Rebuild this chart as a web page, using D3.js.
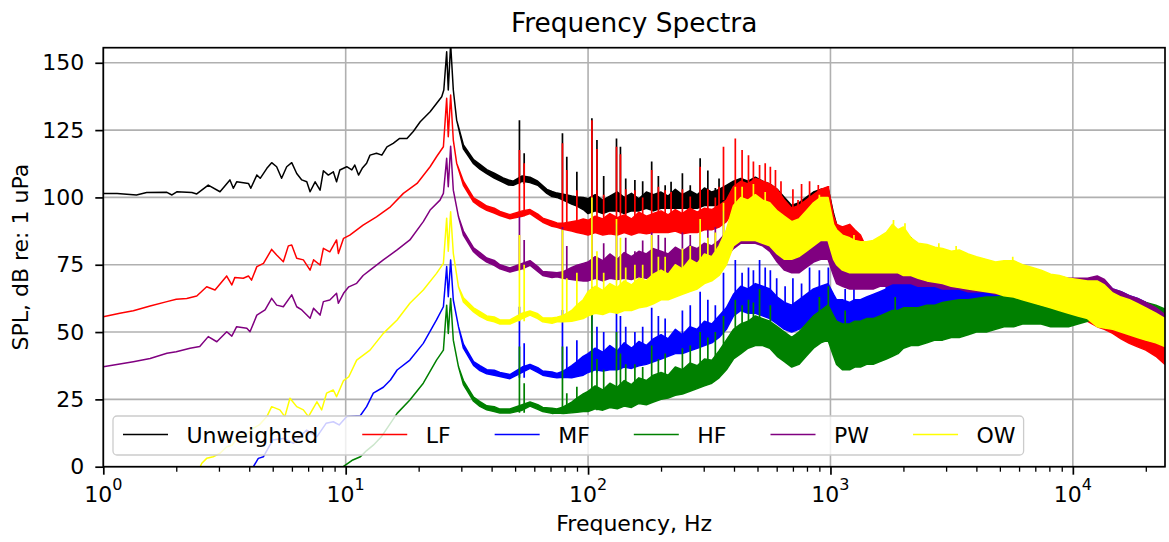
<!DOCTYPE html>
<html>
<head>
<meta charset="utf-8">
<script src="https://cdn.jsdelivr.net/npm/d3@7"></script>
<style>
  body { margin: 0; background: #fff; }
  svg { display: block; font-family: "DejaVu Sans", sans-serif; }
</style>
</head>
<body>
<script>
// ---- data (frequency Hz, level dB) ----
const seriesNames = ["Unweighted", "LF", "MF", "HF", "PW", "OW"];
const seriesColors = ["#000000", "#ff0000", "#0000ff", "#008000", "#800080", "#ffff00"];
const yTicks = [0, 25, 50, 75, 100, 125, 150];
const xTickExponents = [0, 1, 2, 3, 4];

// below ~100 Hz each trace is a thin line: [f, v] or [f, lo, hi]
const unweightedLow = [
  [1,101.5],[1.14,101.5],[1.37,100.9],[1.51,101.8],[1.83,101.9],[1.92,100.9],[2.01,102.1],[2.32,101.8],[2.43,101.3],
  [2.71,104.6],[3.03,102.1],[3.33,106.5],[3.44,103.4],[3.55,105.8],[3.97,105.2],[4.06,103.4],[4.3,108.3],[4.44,107.1],
  [4.73,110.8],[4.95,112.9],[5.19,111.4],[5.44,107.1],[5.71,111.4],[5.99,112.9],[6.28,108.9],[6.59,106.5],[6.91,105.8],
  [7.13,102.1],[7.48,105.8],[7.84,102.7],[8.09,109.9],[8.48,108.3],[8.89,109.5],[9.17,105.8],[9.46,110.2],[10.1,111.4],
  [10.6,110.2],[10.9,112],[11.3,108.3],[11.7,110.8],[12.2,112.7],[12.6,115.7],[13.4,116.4],[14.1,115.7],[14.8,118.8],
  [15.7,120.1],[16.7,121.9],[17.9,121.9],[19,124.5],[20.3,128.1],[22.3,131.8],[24.9,137.4],[25.4,139.9],[26.1,154.1],
  [26.5,139.9],[27.1,157],[27.8,139.9],[28.7,128.7],[30.6,118,119.5],[33.7,112.5,114],[35.8,110.5,112.3],
  [38.2,108.8,110.3],[41,107.2,109],[44.6,105.6,107.2],[47,104.6,106.5],[49.1,104.5,106],[53.5,106,108],
  [57.6,105.5,107.5],[62,104.5,106],[67.6,101.5,103],[71,100.3,102.2],[74.4,100,101.6],[79,99,101.2],
  [85.6,97.5,100.5],[90,96.8,100.2],[95.5,95.5,100]
];
const lfLow = [
  [1,55.7],[1.17,57],[1.33,57.9],[1.56,59.7],[1.83,61.3],[2,62.2],[2.21,62.5],[2.43,63.4],[2.67,66.8],[2.89,65.6],
  [3.23,70.8],[3.39,67.5],[3.49,70.3],[3.78,70],[3.97,70.8],[4.09,69.3],[4.3,74.3],[4.58,75.5],[4.95,80.7],[5.19,78.6],
  [5.53,76.1],[5.8,82],[5.99,82.3],[6.28,77.4],[6.69,76.8],[7.13,73],[7.37,76.8],[7.84,74.9],[8.09,81.1],[8.6,79.8],
  [9.17,84.2],[9.33,79.2],[9.8,84.8],[10.4,86],[11.8,89.7],[13.4,92.8],[15.3,96.5],[17.3,101.5],[19.7,105.2],
  [22.3,111.4],[23.7,115.1],[25.3,118.8],[26.1,136.8],[26.5,122.5],[27.1,138],[27.8,121.3],[28.7,112.7],
  [30.6,104.5,106],[33.7,98.3,99.8],[35.8,96.6,98.4],[38.2,95.2,96.8],[41,94.2,96],[43.3,93.3,94.8],[47.6,92.1,93.6],
  [53.5,93,95],[57.6,94,95.5],[62,92,93.8],[65,90.8,92.3],[71,89.3,91.2],[74.4,88.9,90.5],[79,88.2,90.4],
  [85.6,87.5,91],[90,87,91.3],[95.5,86.5,92]
];
const mfLow = [
  [4.1,-2],[4.16,0],[4.36,3.1],[4.58,3.7],[5,9.9],[5.53,10.5],[6.1,8.7],[6.9,13.6],[7.6,11.1],[8.3,16.1],[8.89,16.7],
  [9.4,15.5],[10.1,18.6],[11.5,19],[12.2,22.3],[13,27.3],[14.3,29.5],[15.3,32.2],[16.3,35.9],[18.4,39.6],[20.9,45.8],
  [23.7,54.5],[25.3,59.4],[26.1,74.3],[26.5,63.1],[27.1,76.8],[27.8,61.9],[29.2,52],[30.6,44,45.5],[33.7,37.6,39],
  [35.8,35.7,37.5],[38.2,34.5,36],[41,34,35.8],[43.3,33.5,35],[47.6,32.7,34.2],[53.5,35,37],[57.6,36.5,38],
  [62,35,36.8],[65,34,35.5],[71,33.3,35.2],[74.4,33,34.6],[79,33.2,35.5],[85.6,33,37.5],[90,33.5,39],[95.5,34,41]
];
const hfLow = [
  [9.7,-2],[9.77,0],[10.7,2.5],[11.5,3.7],[12.2,6],[13,8],[14,11],[15,15],[16.3,19.8],[18.4,24.8],[20.9,31],
  [23.7,39.6],[25.3,43.3],[26.1,60],[26.5,49.5],[27.1,62.5],[27.8,47],[29.2,37.1],[30.6,30.5,32],[33.7,24.3,25.8],
  [35.8,22.4,24.2],[38.2,21.1,22.6],[41,20.5,22.3],[43.3,19.9,21.4],[47.6,19.9,21.4],[53.5,21,23],[57.6,22.5,24],
  [62,21.3,23],[65,20.5,22],[71,19.8,21.7],[74.4,19.9,21.4],[79,19.8,22.2],[85.6,20,24],[90,20.2,25.5],[95.5,20.5,27]
];
const pwLow = [
  [1,37.1],[1.33,39],[1.56,40.2],[1.83,42.1],[2,42.7],[2.28,44],[2.5,44.6],[2.71,48.3],[2.94,46.4],[3.23,50.1],
  [3.39,48.5],[3.55,52],[3.91,51.4],[4.03,50.1],[4.3,56.3],[4.65,58.2],[4.95,62.5],[5.19,60],[5.53,59.4],[5.99,63.8],
  [6.28,59.4],[6.59,58.2],[7.13,55.1],[7.37,58.8],[7.84,56.3],[8.09,61.3],[8.6,61.9],[9.17,64.4],[9.33,60.7],
  [9.8,64.4],[10.3,66.8],[11.1,68.1],[11.8,71],[12.6,73],[14.3,76.8],[16.3,80.5],[18.4,84.2],[20.9,91],[22.3,95.3],
  [24.5,99],[25.3,101.5],[26.1,114.5],[26.5,104],[27.1,119],[27.8,102.7],[29.2,92.8],[30.6,86,87.5],[33.7,79.8,81.3],
  [35.8,77.7,79.5],[38.2,76,77.5],[41,74.8,76.6],[43.3,73.5,75],[47.6,72.3,73.8],[53.5,73.5,75.5],[57.6,74.8,76.5],
  [62,72.5,74.3],[65,71,72.5],[71,70.3,72.2],[74.4,70.5,72],[79,70,72.4],[85.6,69.5,74],[90,69.2,74.8],[95.5,69,75.5]
];
const owLow = [
  [2.45,-2],[2.55,1.3],[2.67,3.1],[2.84,3.7],[3.03,5],[3.23,7.4],[3.4,8],[3.6,11],[3.9,12],[4.1,14],[4.4,15.5],
  [4.73,18.6],[4.95,22.3],[5.35,21.1],[5.61,18.6],[5.89,25.4],[6.28,22.3],[6.69,21.1],[7.02,18.6],[7.61,24.1],
  [7.96,21.1],[8.34,27.3],[8.89,28.5],[9.17,26],[9.8,32],[10.3,33.4],[11.1,39.6],[12.6,43.3],[14.3,49.5],[16.3,54.5],
  [18.4,60.7],[20.9,65.6],[23.7,71.8],[25.3,75.5],[26.1,92.3],[26.5,80],[27.1,94.7],[27.8,79.2],[29.2,66.8],
  [30.6,61.2,62.7],[33.7,57.5,59],[35.8,55.8,57.6],[38.2,54.5,56],[41,53.8,55.6],[43.3,53,54.5],[47.6,53,54.5],
  [53.5,55,57],[57.6,56.3,57.8],[62,55,56.8],[65,53.8,55.3],[71,53.3,55.2],[74.4,53.8,55.5],[79,53.8,56.2],
  [85.6,54,58],[90,54.5,60],[95.5,55,62]
];

// above 100 Hz the traces are dense bands: lower / upper edge at shared frequencies
const bandFreqs = [
  100,107,115,123,132,141,151,162,174,186,
  200,214,229,245,263,282,302,324,347,372,
  398,427,457,490,525,562,603,646,692,741,
  794,851,912,977,1030,1060,1120,1200,1260,1330,
  1410,1500,1600,1700,1800,1900,2000,2150,2300,2500,
  2700,2900,3150,3400,3700,4000,4400,4800,5200,5700,
  6200,6800,7400,8100,8800,9600,10500,11500,12600,13500,
  14600,15800,17100,18500,20000,22000,24000
];
const unweightedBandLo = [
  94,95,94,95,95,94,95,95,96,95,
  96,96,96,96,96,96,97,97,97,98,
  99,99,99,99,98,97,95,93,90,89,
  91,92,93,93,86,82,80,78,77,77,
  76,76,76,76,76,76,76,75,73,72,
  72,71,70,69,69,68,67,66,65,64,
  63,62,61,60,59,58,58,58,59,59,
  56,55,54,52,51,49,47
];
const unweightedBandHi = [
  99.5,101,99,100.5,102,100,101.5,99.5,102,101,
  102,100.5,103,101,102.5,101,103.5,102,103,104.5,
  106,107,106,107.5,106,105,103,100,97,98,
  100,102,103,103.5,94,90,88,86,85,84,
  83,83,84,86,88,88,87,85,81,80,
  80,79,78,78,77,75,74,74,74,74,
  72,71,70,69,68.5,68,67,67,67,67,
  63,61,60,58,57,55,54
];
const lfBandLo = [
  86,87,86,86.5,86,87,86,87,86.5,87,
  87,87,87.5,86.5,87,87,88,88,89,91,
  95,96,96,96,95,94,92,89,87,87,
  89,91,92,92,85,83,82,81,80,80,
  76,76,76,76,77,77,76,75,74,73,
  72,71,70,70,69,68,67,66,66,65,
  64,63,62,61,60,59,57,54,52,51,
  49.5,47.5,45.8,44.5,43.3,41,38
];
const lfBandHi = [
  91.5,93,92,94,92.5,93.5,92,94.5,93,94,
  95,93.5,95.5,94,96,94.5,96,95.5,97,99,
  104,106,105,107,106,105,103,99,96,97,
  99,101,103,104,93,90,89,90,88,86,
  81,82,83,84,86,85,86,82,81,80,
  79,78,78,77,77,76,74,74,73,73,
  72,71,70,69,68,67,66,64,62,60,
  58,57,55,54,52,50,48
];
const mfBandLo = [
  35,36,35.5,36,36,37,36.5,37.5,38,39,
  40,41,42,42,43,44,45,46,48,51,
  56,58,57,57,56,55,53,51,50,51,
  53,54,55,55,51,50,49,48,49,49,
  50,50,51,53,56,57,57,57,58,58,
  59,59,60,60,60,60,60,60,60,60,
  59,59,58,58,57,57,57,58,59,60,
  58,57,55,54,52,51,49
];
const mfBandHi = [
  42,44,42.5,45,43,46,44,46.5,45,47.5,
  49,47.5,51,49,52,51,54,53,56,59,
  64,67,66,68,67,66,63,61,60,62,
  64,66,67,68,64,62,62,61,62,62,
  63,64,65,66,70,71,69,68,67,67,
  68,68,69,68.5,68,68,67.5,67,67,66.5,
  66,65.5,65,65,65.5,66,67,68.5,70.6,69,
  66,65,63.5,62.5,61,59,57
];
const hfBandLo = [
  20.5,21.5,21,22,21.5,22.5,22,23.5,23,24,
  25,25.5,26.5,27,28,29,30,31,33,36,
  40,42,44,45,45,44,41,39,37,38,
  41,44,46,47,41,38,36,36,37,37,
  38,38,39,40,41,42,44,45,45,46,
  47,47,48,48,49,50,50,51,52,52,
  53,53,53,52,52,52,53,54,56,57,
  58,57.5,57,56.5,56,55,54
];
const hfBandHi = [
  28,30,28.5,31,29.5,32,30.5,33,32,34,
  35,34,37,36,38.5,37.5,40,39.5,43,47,
  51,53,54,56,55,54,52,50,48,50,
  53,56,58,60,56,54,53,53,54,54,
  55,55,56,57,58,58,59,59,59,60,
  60,61,61.5,62,62,62.5,63,63,63.5,64,
  63,62,61,60.5,60,60,61,63,65,66,
  65,64,63,62,61,60,58.5
];
const pwBandLo = [
  69,70,69,70,69.5,70,69.5,70.5,70,71,
  71,71,72,72,72,73,73,74,75,78,
  81,83,83,83,82,80,76,73,72,72,
  74,76,77,77,71,68,67,66,66,66,
  66,66,67,67,68,68,68,68,67,67,
  67,66,66,66,65,65,65,64,64,64,
  63,63,63,62,62,62,62,63,65,65,
  61,60,59,58,56,54,52
];
const pwBandHi = [
  76,78,76.5,79,77,79.5,78,80,79,81,
  80,79,81.5,80,82,81,83,82,84,87,
  89,91,90,91,89,87,84,81,80,81,
  83,85,86,86,79,77,76,75,75,75,
  75,76,77,78,78,78,77,77,76,76,
  76,75,75,75,74,74,73,73,73,73,
  72,72,71,71,70.5,70,70,70,70.8,69.5,
  66,65,63.5,62.5,61,59,56.5
];
const owBandLo = [
  56,57,56.5,57.5,57,58,58,59,59.5,60.5,
  62,62,63,64,65,66,68,69,71,75,
  82,84,84,84,83,82,79,77,77,78,
  80,82,84,84,77,75,73,72,72,72,
  72,72,72,72,72,72,71,71,70,69,
  68.5,68,67,66.5,66,65.5,65,64.5,63.5,63,
  62,61,60,59,58,57,56,55,52,51.5,
  51,50,49,48,47,46,44.6
];
const owBandHi = [
  65,67,65.5,68,66.5,69,67.5,70,69,71.5,
  73,71.5,75,73.5,77,75.5,79,78,82,88,
  97,100,99,101,99,98,95,93,91,92,
  95,98,100,100,90,88,86,85,84,83.5,
  83.5,84,85.5,87,90,88,89,85,83,82.5,
  81.5,81,80,80.5,79,78,77,76,76.5,76.5,
  75,74,73,71.5,71,70,69.5,69,69,67.5,
  64.5,63,62,60.5,59,57,55
];

// narrow tonal peaks: [f, base, top]
const unweightedPeaks = [
  [52.1,105,128.7],[54.5,105,116.4],[78.4,100,123.8],[81.7,100,115.1],[89.9,98,109.5],[103.7,97,129.4],[108.8,97,121.3],
  [116,98,108],[131,98,121.9],[136,98,118.8],[143,98,107],[156,99,106.5],[168,99,106],[183,99,113.3],[195,100,108],
  [208,100,104.5],[220,100,105.8],[245,100,109],[264,100,104.5],[290,100,114.5],[312,101,110],[335,101,103.5],[347,101,107]
];
const lfPeaks = [
  [52.1,93,117.6],[54.5,93,112.7],[78.4,89,120.1],[81.7,89,110.2],[89.9,89,102.7],[103.7,89,128.7],[108.8,89,118],
  [116,91,101],[131,91,118.8],[136,91,116],[143,91,103],[156,92,102.7],[168,92,100],[183,92,110.2],[195,93,104],
  [208,93,102.7],[220,93,102],[245,93,103],[264,94,100.3],[290,95,111.4],[312,95,103],[335,96,100],[347,96,104],
  [362,99,118.8],[405,103,121.9],[432,104,117.6],[459,104,115.7],[481,104,113.3],[510,103,112],[538,102,112.7],
  [565,101,111.4],[593,100,110.2],[625,97,106],[700,94,103],[735,95,99],[760,95,105],[820,98,106],[891,100,104.6],
  [940,100,103],[981,100,104.2]
];
const mfPeaks = [
  [52.1,33,59.4],[54.5,33,45.8],[78.4,33,58.2],[81.7,33,44.6],[89.9,34,47],[103.7,35,66.8],[108.8,35,52],
  [116,41,50],[131,36,63.1],[136,36,56],[143,42,52],[156,38,50],[168,43,52],[183,40,59],[195,46,56],[208,42,55],
  [245,48,58],[264,50,60],[290,48,65],[312,52,62],[335,53,60],[362,55,72],[405,58,76.8],[432,63,72],[459,58,74],
  [481,65,73],[510,57,76.8],[538,65,74],[565,56,73],[600,61,70],[650,59,67],[700,52,70],[760,59,68],[820,54,74],
  [900,55,73],[980,55,74],[1150,59,66],[1250,59,67],[1700,63,72],[1850,67,75],[1950,67,74]
];
const hfPeaks = [
  [52.1,20,44.6],[54.5,20,31],[78.4,20,44.6],[81.7,20,27.3],[89.9,21,29.7],[103.7,21,58.2],[108.8,21,40],
  [116,27,36],[131,22,50],[136,22,42],[143,28,38],[156,23,38],[168,29,37],[183,24,45],[195,32,40],[208,33,42],
  [245,35,44],[264,37,45],[290,31,50],[312,39,48],[335,41,50],[362,36,56],[405,41,62],[432,51,60],[459,52,62],
  [481,53,61],[510,45,66],[565,52,60],[900,56,63],[980,47,67],[1150,51,58],[1850,56,63]
];
const pwPeaks = [
  [52.1,73,92.8],[54.5,73,84.2],[78.4,71,89],[81.7,71,82],[103.7,71,99],[116,75,83],[131,72,90],[143,76,85],
  [156,72,80],[168,77,84],[183,73,87],[195,78,86],[208,78,85],[245,79,87],[264,80,86],[290,75,90],[312,81,88],
  [335,82,89],[362,80,95],[405,84,98],[700,78,85],[900,83,89]
];
const owPeaks = [
  [52.1,54,86],[54.5,54,75],[78.4,54,88],[81.7,54,70],[89.9,56,72],[103.7,57,100],[108.8,57,80],[116,64,72],
  [131,58,92],[136,58,85],[143,65,74],[156,60,75],[168,67,75],[183,62,86],[195,69,78],[208,63,78],[245,73,81],
  [264,75,82],[290,70,92],[312,77,85],[335,80,87],[362,76,98],[405,86,104],[432,97,104],[481,98,105],[538,96,102],
  [900,95,101],[1250,81,86],[1820,80,91.6],[2030,80,90.4],[2800,78,83],[3300,77,82],[5650,73,78]
];

const lows = [unweightedLow, lfLow, mfLow, hfLow, pwLow, owLow];
const bandLos = [unweightedBandLo, lfBandLo, mfBandLo, hfBandLo, pwBandLo, owBandLo];
const bandHis = [unweightedBandHi, lfBandHi, mfBandHi, hfBandHi, pwBandHi, owBandHi];
const peaks = [unweightedPeaks, lfPeaks, mfPeaks, hfPeaks, pwPeaks, owPeaks];

const series = seriesNames.map((name, i) => ({
  name,
  color: seriesColors[i],
  line: lows[i].concat(bandFreqs.map((f, j) => [f, bandLos[i][j], bandHis[i][j]])),
  peaks: peaks[i]
}));

// ---- layout ----
const width = 1169, height = 542;
const margin = { top: 47.7, right: 4, bottom: 75.3, left: 103.3 };
const fontSize = 22;
const gridColor = "#b0b0b0";

const x = d3.scaleLog().domain([1, 24000]).range([margin.left, width - margin.right]);
const y = d3.scaleLinear().domain([0, 155.6]).range([height - margin.bottom, margin.top]);
const [x0, x1] = x.range();
const [yb, yt] = y.range();

const svg = d3.select("body").append("svg")
  .attr("width", width)
  .attr("height", height);

svg.append("defs").append("clipPath").attr("id", "plot-clip")
  .append("rect")
  .attr("x", x0).attr("y", yt)
  .attr("width", x1 - x0).attr("height", yb - yt);

// grid
const majorX = xTickExponents.map((e) => Math.pow(10, e));
svg.append("g").selectAll("line")
  .data(majorX)
  .enter().append("line")
  .attr("x1", (d) => x(d)).attr("x2", (d) => x(d))
  .attr("y1", yt).attr("y2", yb)
  .attr("stroke", gridColor).attr("stroke-width", 1.6);
svg.append("g").selectAll("line")
  .data(yTicks)
  .enter().append("line")
  .attr("x1", x0).attr("x2", x1)
  .attr("y1", (d) => y(d)).attr("y2", (d) => y(d))
  .attr("stroke", gridColor).attr("stroke-width", 1.6);

// spectra
const lo = (d) => d[1];
const hi = (d) => (d.length > 2 ? d[2] : d[1]);
const area = d3.area()
  .x((d) => x(d[0]))
  .y0((d) => y(lo(d)))
  .y1((d) => y(hi(d)));

const plot = svg.append("g").attr("clip-path", "url(#plot-clip)");
series.forEach((s) => {
  const g = plot.append("g").attr("class", "series");
  g.append("path")
    .datum(s.line)
    .attr("d", area)
    .attr("fill", s.color)
    .attr("stroke", s.color)
    .attr("stroke-width", 1.5)
    .attr("stroke-linejoin", "round");
  g.selectAll("line")
    .data(s.peaks)
    .enter().append("line")
    .attr("x1", (d) => x(d[0])).attr("x2", (d) => x(d[0]))
    .attr("y1", (d) => y(d[1])).attr("y2", (d) => y(d[2]))
    .attr("stroke", s.color)
    .attr("stroke-width", 1.7);
});

// spines
svg.append("rect")
  .attr("x", x0).attr("y", yt)
  .attr("width", x1 - x0).attr("height", yb - yt)
  .attr("fill", "none").attr("stroke", "#000").attr("stroke-width", 1.7);

// x axis: major + minor ticks
const minorX = [];
xTickExponents.forEach((e) => {
  for (let m = 2; m <= 9; m++) {
    const v = m * Math.pow(10, e);
    if (v < 24000) minorX.push(v);
  }
});
svg.append("g")
  .attr("transform", `translate(0,${yb})`)
  .call(d3.axisBottom(x).tickValues(majorX).tickSize(8).tickFormat(""))
  .call((g) => g.select(".domain").remove())
  .call((g) => g.selectAll("line").attr("stroke-width", 1.7));
svg.append("g")
  .attr("transform", `translate(0,${yb})`)
  .call(d3.axisBottom(x).tickValues(minorX).tickSize(5).tickFormat(""))
  .call((g) => g.select(".domain").remove())
  .call((g) => g.selectAll("line").attr("stroke-width", 1.3));

const xLabels = svg.append("g").selectAll("text")
  .data(majorX)
  .enter().append("text")
  .attr("x", (d) => x(d))
  .attr("y", 501.7)
  .attr("text-anchor", "middle")
  .attr("font-size", fontSize)
  .attr("fill", "#000");
xLabels.append("tspan").text("10");
xLabels.append("tspan")
  .attr("dy", -11.5)
  .attr("font-size", 16)
  .text((d) => Math.round(Math.log10(d)));

// y axis
svg.append("g")
  .attr("transform", `translate(${x0},0)`)
  .call(d3.axisLeft(y).tickValues(yTicks).tickSize(8).tickPadding(11))
  .call((g) => g.select(".domain").remove())
  .call((g) => g.selectAll("line").attr("stroke-width", 1.7))
  .call((g) => g.selectAll("text")
    .attr("font-size", fontSize)
    .attr("font-family", "DejaVu Sans")
    .attr("fill", "#000"));

// titles
svg.append("text")
  .attr("x", (x0 + x1) / 2).attr("y", 32)
  .attr("text-anchor", "middle")
  .attr("font-size", 26.4)
  .text("Frequency Spectra");
svg.append("text")
  .attr("x", (x0 + x1) / 2).attr("y", 531)
  .attr("text-anchor", "middle")
  .attr("font-size", fontSize)
  .text("Frequency, Hz");
svg.append("text")
  .attr("transform", `translate(28,${(yt + yb) / 2}) rotate(-90)`)
  .attr("text-anchor", "middle")
  .attr("font-size", fontSize)
  .text("SPL, dB re: 1 uPa");

// legend (one row)
const legend = svg.append("g");
const legendBox = legend.append("rect")
  .attr("x", 113).attr("y", 416)
  .attr("height", 39)
  .attr("rx", 4)
  .attr("fill", "#fff").attr("fill-opacity", 0.8)
  .attr("stroke", "#cccccc").attr("stroke-width", 1.3);
const handleLen = 45, textPad = 18.5, colSpacing = 44;
let cursor = 123;
const rowY = 434.5;
series.forEach((s) => {
  legend.append("line")
    .attr("x1", cursor).attr("x2", cursor + handleLen)
    .attr("y1", rowY).attr("y2", rowY)
    .attr("stroke", s.color).attr("stroke-width", 1.5);
  const t = legend.append("text")
    .attr("x", cursor + handleLen + textPad)
    .attr("y", rowY + 8)
    .attr("font-size", fontSize)
    .text(s.name);
  cursor = cursor + handleLen + textPad + t.node().getComputedTextLength() + colSpacing;
});
legendBox.attr("width", cursor - colSpacing + 8 - 113);
</script>
</body>
</html>
